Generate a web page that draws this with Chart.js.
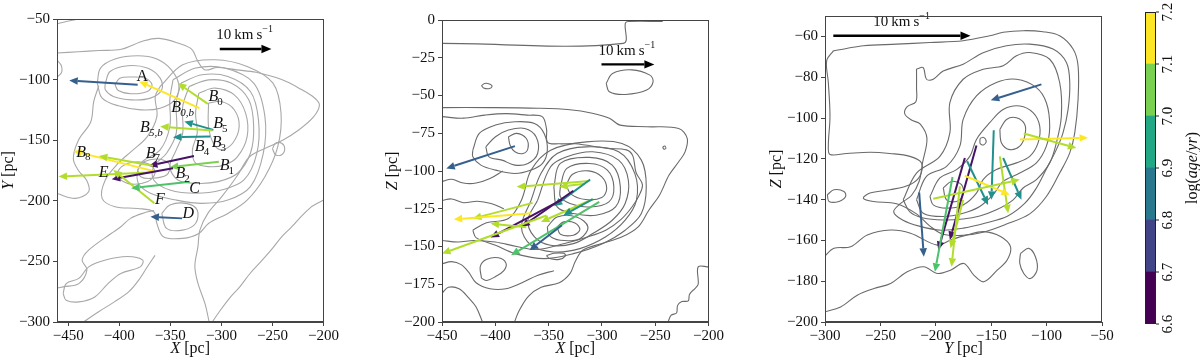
<!DOCTYPE html>
<html>
<head>
<meta charset="utf-8">
<script src="https://cdn.jsdelivr.net/npm/chart.js@4.4.0/dist/chart.umd.min.js"></script>
<style>
  html, body { margin: 0; padding: 0; background: #fff; width: 1200px; height: 362px; overflow: hidden; }
  .panel { position: absolute; top: 0; }
</style>
</head>
<body>
<div class="panel" style="left:0px"><canvas id="xy" width="340" height="362"></canvas></div>
<div class="panel" style="left:380px"><canvas id="xz" width="345" height="362"></canvas></div>
<div class="panel" style="left:760px"><canvas id="yz" width="370" height="362"></canvas></div>
<div class="panel" style="left:1130px"><canvas id="cbar" width="70" height="362"></canvas></div>
<script>
/* AXES */
const xTicksXY = [-450, -400, -350, -300, -250, -200];
const yTicksXY = [-300, -250, -200, -150, -100, -50];
const xTicksXZ = [-450, -400, -350, -300, -250, -200];
const yTicksXZ = [-200, -175, -150, -125, -100, -75, -50, -25, 0];
const xTicksYZ = [-300, -250, -200, -150, -100, -50];
const yTicksYZ = [-200, -180, -160, -140, -120, -100, -80, -60];
const cbTicks = [6.6, 6.7, 6.8, 6.9, 7.0, 7.1, 7.2];

/* X-Y PANEL : velocity arrows [x0, y0, x1, y1] and log(age) */
const xyArrows = [
  [-382, -104.3, -449, -100.7],
  [-321.5, -123.6, -380.5, -101.5],
  [-313.3, -120, -342.6, -102.9],
  [-307.9, -141.5, -336.3, -134.6],
  [-308.9, -142, -360, -138.7],
  [-311, -147, -347.4, -147.5],
  [-326.9, -163, -371, -171.2],
  [-302.5, -167.7, -350.5, -172.3],
  [-366, -175.5, -445, -159],
  [-367, -171, -420, -163],
  [-366, -176.5, -459.5, -180],
  [-347.4, -173.2, -407.4, -182.3],
  [-365.7, -202.1, -405.8, -174.5],
  [-331, -184.2, -388.4, -189.7],
  [-338.5, -214.5, -369.5, -213.1]
];
const xyAges = [6.78, 7.2, 7.13, 6.9, 7.13, 6.9, 6.63, 7.08, 7.2, 7.13, 7.13, 6.63, 7.13, 7.03, 6.78];

/* group labels: [x, y], name, subscript */
const xyLabelPos = [
  [-377.4, -97.4], [-312.6, -114.5], [-349, -123.6], [-307.9, -136.5], [-379.6, -140],
  [-309.5, -152], [-326, -155.3], [-374.2, -161], [-301.6, -171.2], [-442.1, -160.2],
  [-415.3, -176.8], [-344.9, -177.9], [-326.2, -189.7], [-360.3, -199.4], [-332.5, -210.4]
];
const xyLabelName = ['A', 'B', 'B', 'B', 'B', 'B', 'B', 'B', 'B', 'B', 'E', 'B', 'C', 'F', 'D'];
const xyLabelSub = ['', '0', '0,b', '5', '5,b', '3', '4', '7', '1', '8', '', '2', '', '', ''];

/* X-Y density contours (open lines and closed loops) */
const xyLines = [
  [[-461, -78], [-440, -77], [-420, -76], [-398, -75], [-376, -68], [-361, -66], [-342, -70], [-329, -75],
   [-323, -85], [-316, -92], [-304, -90], [-285, -92], [-266, -94], [-241, -100], [-222, -108], [-209, -115],
   [-204, -121], [-210, -131], [-225, -142], [-240, -150], [-258, -157], [-270, -162], [-275, -166],
   [-285, -180], [-300, -197], [-313, -210], [-321, -224], [-323, -238], [-326, -254], [-323, -268],
   [-316, -285], [-312, -300]],
  [[-461, -54], [-452, -52], [-443, -50.5]],
  [[-461, -84], [-457, -88], [-456.5, -94], [-461, -98]],
  [[-366, -208], [-376, -210], [-389, -214.5], [-398.5, -221.4], [-408, -227], [-430, -240.7], [-436.4, -249],
   [-431.7, -257], [-439.6, -268.3], [-455, -271], [-461, -272]],
  [[-461, -194], [-443, -198], [-430, -192.5], [-432, -183], [-440, -175], [-445, -165], [-440, -150],
   [-428, -135], [-425, -118], [-420, -105]],
  [[-435, -300], [-420.6, -291.7], [-404.8, -283.4], [-390.6, -275], [-381, -265.5], [-373, -255], [-365, -245]],
  [[-200, -199.4], [-209, -203.5], [-212, -205], [-222, -213], [-231, -221.4], [-241, -229.7], [-250, -239.3],
   [-260, -249], [-272, -260], [-282, -271], [-291, -279.3], [-301, -290.3], [-309, -300]]
];
const xyLoops = [
  [[-250, -157], [-247, -152.5], [-241, -152.5], [-238, -157], [-241, -162], [-247, -162]],
  [[-455, -276.5], [-452, -268.3], [-439.6, -264], [-430, -254.5], [-414.3, -249], [-392, -246], [-377, -249],
   [-379.6, -254.5], [-398.5, -260], [-411, -268.3], [-424, -279.3], [-439.6, -283.4], [-452, -282]],
  [[-404.2, -104.3], [-399.5, -98.9], [-388.4, -97.9], [-374.2, -98.9], [-367.9, -104.3], [-372.6, -109.8],
   [-388.4, -111.7], [-401, -109]],
  [[-413.7, -102.9], [-409, -93.3], [-391.6, -88.6], [-372.6, -90.5], [-360, -98.8], [-358.4, -108.4],
   [-369.5, -115.3], [-388.4, -116.7], [-405.8, -113.9], [-413.7, -108.4]],
  [[-421.6, -102.9], [-418.4, -90.5], [-404.2, -83], [-382, -80.3], [-363.2, -83], [-349, -91.9], [-341.7, -104.3],
   [-345.8, -116.7], [-360, -123.6], [-378.9, -125], [-401, -121.6], [-416.8, -115.3]],
  [[-312.6, -119.4], [-300, -118.1], [-287.4, -124.9], [-282.6, -138.7], [-289, -152.5], [-300, -158],
   [-307.9, -152.5], [-312.6, -138.7]],
  [[-322.1, -111.2], [-306.3, -107], [-287.4, -112.6], [-276.3, -127.7], [-274.8, -147], [-284.2, -163.5],
   [-296.9, -170.4], [-312.6, -171.8], [-325.3, -169], [-328.4, -158], [-323.7, -144.2], [-325.3, -127.7]],
  [[-331.6, -105.7], [-312.6, -100.2], [-290.5, -102.9], [-273.2, -116.7], [-268.4, -138.7], [-271.6, -160.8],
   [-284.2, -177.3], [-303.2, -184.2], [-325.3, -185.6], [-342.6, -182.8], [-350.5, -171.8], [-344.2, -158],
   [-337.9, -144.2], [-337.9, -122.2]],
  [[-339.5, -102.9], [-319, -96], [-293.7, -97.4], [-271.6, -109.8], [-263.7, -133.2], [-265.3, -160.8],
   [-277.9, -182.8], [-300, -191.1], [-325.3, -193.8], [-350.5, -191.1], [-366.3, -182.8], [-366.3, -171.8],
   [-353.7, -160.8], [-344.2, -144.2], [-344.2, -119.4]],
  [[-347.4, -100.2], [-325.3, -90.5], [-296.9, -90.5], [-268.4, -102.9], [-257.4, -130.5], [-259, -160.8],
   [-271.6, -188.3], [-293.7, -199.4], [-319, -202.1], [-344.2, -199.4], [-369.5, -193.8], [-382, -184.2],
   [-378.9, -169], [-360, -158], [-350.5, -138.7], [-350.5, -116.7]],
  [[-360, -105.7], [-337.9, -87.8], [-306.3, -83.6], [-274.8, -89.1], [-249.5, -102.9], [-241.6, -127.7],
   [-244.8, -155.3], [-257.4, -180.1], [-274.8, -199.4], [-293.7, -210.4], [-312.6, -218.7], [-322.1, -226.9],
   [-337.9, -231], [-356.9, -229.6], [-363.2, -218.7], [-366.3, -209], [-382, -206.3], [-404.2, -204.9],
   [-416.8, -198], [-413.7, -182.8], [-401, -169], [-388.4, -159.4], [-372.6, -147], [-363.2, -130.5],
   [-364.8, -114]],
  [[-382, -174.6], [-375.8, -167.7], [-360, -165.7], [-350.5, -170.4], [-353.7, -178.7], [-369.5, -181.5],
   [-379, -180.1]],
  [[-404, -180], [-398, -172], [-385, -168], [-370, -170], [-365, -177], [-372, -184], [-390, -186]],
  [[-358.4, -210.4], [-350.5, -203.5], [-334.7, -202.1], [-323.7, -207.6], [-325.3, -218.7], [-337.9, -224.2],
   [-353.7, -222.8]]
];

/* X-Z PANEL */
const xzArrows = [
  [-381.6, -83.5, -446, -98.3],
  [-311.6, -106.7, -380, -110.5],
  [-316, -108.5, -340, -110.5],
  [-311, -105.6, -345, -123.3],
  [-326.8, -113.1, -375.5, -137],
  [-337.5, -118.9, -404.4, -144.1],
  [-308.6, -118.7, -357.2, -133.7],
  [-308.6, -118.7, -336, -129.3],
  [-302.5, -120.4, -385.2, -155.8],
  [-337.5, -135.9, -367.9, -152.5],
  [-365, -121.1, -421, -131.5],
  [-366, -128, -439, -132],
  [-352, -129.5, -450, -154.7],
  [-370.9, -137.3, -404.4, -134.8]
];
const xzAges = [6.78, 7.13, 7.13, 6.9, 6.63, 6.63, 7.13, 6.9, 7.03, 6.78, 7.13, 7.2, 7.13, 7.13];

const xzLines = [
  [[-450, -15.5], [-280, -15.5], [-278, -2], [-275, -1], [-243, -1]],
  [[-450, -58], [-406, -58], [-360, -58.4], [-330, -59.4], [-309, -61.7], [-293, -65], [-283, -69.6],
   [-258, -70.7], [-228, -71.8], [-220, -78.4], [-222, -87.3], [-228, -93.9], [-237, -102.7], [-246, -116],
   [-256, -126], [-266, -137], [-281, -143.6], [-300, -148], [-318, -152.5], [-325, -160], [-330, -168],
   [-340, -174], [-357, -177], [-369, -183], [-378, -193], [-382, -200]],
  [[-450, -64], [-430, -65], [-410, -63], [-390, -62], [-370, -63], [-356, -64], [-352, -72], [-351, -81],
   [-340, -82], [-325, -82], [-295, -85], [-277, -86], [-271, -90], [-268, -101], [-262, -109], [-265, -116],
   [-272, -124], [-282, -132], [-296, -139], [-315, -144], [-335, -148], [-360, -152], [-380, -150],
   [-400, -147], [-420, -146], [-435, -147], [-450, -146]],
  [[-450, -107], [-441, -105.5], [-430, -108], [-418, -108], [-405, -105], [-393, -100]],
  [[-450, -119.5], [-441, -118.5], [-430, -121], [-417, -120], [-404, -121.5], [-392, -125]],
  [[-450, -161.5], [-441, -160], [-432, -162], [-425, -167], [-418, -174], [-405, -178], [-390, -178],
   [-375, -174], [-360, -169], [-345, -166]],
  [[-450, -181], [-444, -177], [-434, -178], [-425, -184], [-418, -190], [-412, -200]],
  [[-200, -163.5], [-209.7, -163.5], [-209.7, -175], [-213, -178], [-216, -180], [-218, -182], [-219, -186],
   [-225, -186.5], [-229, -189], [-230, -194], [-235, -195.5], [-238, -200]]
];
const xzLoops = [
  [[-413, -43.5], [-410, -42], [-405, -42.5], [-403, -44], [-406, -45.5], [-411, -45]],
  [[-296, -42], [-290, -35.4], [-272, -33], [-255, -36.5], [-252, -41], [-258, -46.4], [-278, -49.3], [-293, -47.5]],
  [[-243, -84], [-241, -83.5], [-240, -85], [-242, -85.5]],
  [[-413, -171], [-414, -163], [-408, -158.5], [-397, -157.5], [-390, -161], [-392, -166], [-400, -170], [-408, -172.5]],
  [[-352, -156], [-345, -154.5], [-336, -154.5], [-334, -156], [-340, -158.5], [-349, -158]],
  [[-387.7, -77.3], [-380, -75.1], [-370.9, -78.5], [-369.4, -85.1], [-374, -88.4], [-381.6, -87.3], [-386.1, -82.9]],
  [[-408.9, -84], [-399.8, -77.3], [-387.7, -72.9], [-372.4, -71.8], [-361.8, -77.3], [-360.3, -88.4],
   [-369.4, -95], [-381.6, -96.1], [-393.7, -92.8], [-405.9, -90.6]],
  [[-421.1, -86.2], [-415, -75.1], [-399.8, -69.6], [-381.6, -67.4], [-363.3, -68.5], [-354.2, -75.1],
   [-351.2, -86.2], [-355.7, -95], [-366.4, -99.4], [-381.6, -101.7], [-399.8, -99.4], [-413.5, -96.1], [-421.1, -90.6]],
  [[-333.5, -109.4], [-327.5, -102.1], [-312.3, -99.9], [-300.1, -103.9], [-295.5, -111.6], [-300.1, -117.6],
   [-315.3, -118.9], [-329, -115.3]],
  [[-339, -110.5], [-332.9, -98.3], [-311.6, -95], [-294.9, -99.4], [-288.8, -110.5], [-293.4, -120.4],
   [-311.6, -123.8], [-329.9, -121.5], [-339, -117.1]],
  [[-345.1, -110.5], [-339, -95], [-311.6, -91], [-290.3, -96.1], [-282.7, -110.5], [-287.2, -123.8],
   [-305.5, -129.3], [-326.8, -128.2], [-342, -123.8]],
  [[-342, -137], [-335.9, -133.7], [-325.3, -134.4], [-320.7, -138.8], [-326.8, -142.5], [-339, -141.9]],
  [[-351.2, -137], [-342, -130.4], [-323.8, -130.4], [-313.1, -137], [-320.7, -144.8], [-339, -145.9], [-349.6, -142.5]],
  [[-360.3, -119.3], [-348.1, -97.2], [-332.9, -90.6], [-308.6, -87.3], [-284.3, -92.8], [-275.2, -106.1],
   [-278.2, -121.5], [-290.3, -132.6], [-308.6, -141.4], [-326.8, -148.1], [-348.1, -149.2], [-363.3, -143.6],
   [-369.4, -132.6]],
  [[-366.4, -119.3], [-357.2, -101.7], [-342, -88.4], [-314.6, -84], [-284.3, -87.3], [-269.1, -101.7],
   [-267.6, -119.3], [-278.2, -132.6], [-296.4, -143.6], [-320.7, -151.4], [-345.1, -153.6], [-366.4, -149.2],
   [-375.5, -137]],
  [[-421.1, -139.2], [-408.9, -134.4], [-387.7, -131.5], [-375.5, -119.3], [-366.4, -99.4], [-348.1, -86.2],
   [-314.6, -80.7], [-281.2, -81.8], [-263, -92.8], [-258.4, -110.5], [-263, -128.2], [-278.2, -139.2],
   [-299.5, -148.1], [-326.8, -154.7], [-354.2, -158], [-381.6, -154.7], [-399.8, -149.2], [-418.1, -144.1]]
];

/* Y-Z PANEL */
const yzArrows = [
  [-104.7, -83.5, -150.4, -91.3],
  [-124.2, -110.5, -62.6, -109.7],
  [-120.6, -107.6, -73.1, -114.7],
  [-147.7, -106, -149.8, -140.1],
  [-163.3, -113.5, -187.3, -159.8],
  [-173.8, -119.6, -197.8, -164.7],
  [-171.7, -121.2, -152.8, -142.6],
  [-142.2, -118.8, -134.7, -146.7],
  [-139.2, -119.6, -122.7, -140.1],
  [-173.8, -128.3, -133.2, -137.6],
  [-202.3, -139.6, -124.2, -130.2],
  [-184.9, -128.9, -200.8, -175.4],
  [-178.3, -133.5, -185.8, -172.9],
  [-175.3, -140.1, -186.7, -163.9],
  [-215, -136.5, -210.8, -168]
];
const yzAges = [6.78, 7.2, 7.13, 6.9, 6.63, 6.63, 6.9, 7.13, 6.9, 7.2, 7.13, 7.03, 7.13, 7.13, 6.78];

const yzLines = [
  [[-300.9, -168], [-291.9, -163.9], [-276.9, -163.1], [-261.8, -157.3], [-240.8, -154.9], [-222.8, -156.5],
   [-198.7, -162.3], [-186.7, -159.8], [-171.7, -157.3], [-156.7, -155.7], [-141.6, -158.1], [-132.6, -163.1],
   [-135.6, -169.6], [-144.6, -174.6], [-156.7, -180.3], [-165.7, -177], [-174.7, -171.3], [-186.7, -174.6],
   [-198.7, -176.2], [-210.8, -172.9], [-225.8, -175.4], [-240.8, -181.1], [-255.8, -183.6], [-270.9, -186.9],
   [-285.9, -192.6], [-300.9, -195.1]]
];
const yzLoops = [
  [[-292.5, -67.1], [-280.5, -65.9], [-265.4, -64.6], [-235.4, -63.8], [-205.3, -63], [-175.3, -62.1],
   [-151.3, -59.7], [-139.2, -58], [-121.2, -57.2], [-103.2, -57.7], [-88.2, -59.7], [-76.1, -66.2],
   [-71.6, -74.4], [-71.6, -90.9], [-74.6, -107.3], [-79.1, -117.1], [-88.2, -127], [-100.2, -138.5],
   [-115.2, -147], [-136.2, -152], [-157.3, -156], [-175.3, -157.5], [-193.3, -157], [-205.3, -153],
   [-217.4, -147], [-235.4, -142], [-256.4, -140.9], [-265.4, -139.3], [-259.4, -136.8], [-241.4, -135.2],
   [-223.4, -132.7], [-214.4, -128.6], [-212.9, -122], [-223.4, -118.8], [-241.4, -117.4], [-259.4, -116.8],
   [-280.5, -117.4], [-295.5, -117.9], [-297, -113.8], [-295.5, -99.1], [-297, -82.6], [-298.5, -72]],
  [[-217.4, -76], [-211.4, -75.3], [-208.4, -81], [-202.3, -81], [-193.3, -77], [-175.3, -73.6], [-157.3, -68],
   [-136.2, -64.6], [-115.2, -63.8], [-94.2, -66.2], [-82.1, -72.8], [-79.1, -82.6], [-80.6, -95.8],
   [-85.2, -107.3], [-91.2, -115.5], [-100.2, -125], [-110, -135], [-120, -142], [-135, -148], [-155, -151.5],
   [-175, -154], [-195, -155], [-215, -153], [-230, -150], [-238, -146], [-232, -142], [-222, -138],
   [-215, -131], [-212, -122], [-208, -110], [-214, -103], [-222, -101], [-228, -98], [-226, -94.5],
   [-218, -92], [-217.4, -85]],
  [[-229.4, -140.1], [-217.4, -127], [-196.3, -118.8], [-187.3, -107.3], [-187.3, -92.5], [-175.3, -81],
   [-157.3, -76.1], [-139.2, -74.4], [-127.2, -69.5], [-115.2, -67.9], [-97.2, -71.2], [-88.2, -82.6],
   [-86.7, -99.1], [-91.2, -112.2], [-97.2, -122], [-109.2, -130.2], [-121.2, -134.3], [-130.2, -140.1],
   [-145.3, -145], [-160.3, -148], [-175.3, -149.5], [-193.3, -150], [-211.4, -149], [-223.4, -146]],
  [[-217.4, -140.1], [-208.4, -128.6], [-190.3, -123.7], [-178.3, -113.8], [-175.3, -100.7], [-163.3, -89.2],
   [-145.3, -82.6], [-127.2, -81], [-109.2, -85.1], [-100.2, -92.5], [-97.2, -104], [-100.2, -113.8],
   [-109.2, -122], [-124.2, -127], [-139.2, -131.1], [-148.3, -137.6], [-160.3, -143.4], [-175.3, -146.7],
   [-193.3, -148.3], [-211.4, -146.7]],
  [[-205.3, -138.5], [-196.3, -129.4], [-181.3, -125.3], [-169.3, -118.8], [-163.3, -110.5], [-151.3, -102.3],
   [-139.2, -95.8], [-124.2, -94.1], [-112.2, -97.4], [-106.2, -104], [-107.7, -112.2], [-115.2, -118.8],
   [-127.2, -122], [-145.3, -125.3], [-157.3, -130.2], [-163.3, -136.8], [-175.3, -142.6], [-190.3, -144.2],
   [-202.3, -142.6]],
  [[-142.2, -105.6], [-136.2, -100.7], [-127.2, -99.9], [-119.7, -103.2], [-119.7, -108.9], [-124.2, -113.8],
   [-133.2, -115.5], [-140.7, -112.2]],
  [[-160, -110], [-157, -109.5], [-154.5, -111.5], [-157, -113.2], [-160, -112.5]],
  [[-193.3, -134.3], [-185.8, -131.1], [-176.8, -132.7], [-175.3, -137.6], [-181.3, -140.9], [-190.3, -140.1]],
  [[-123.6, -166.4], [-116.1, -163.9], [-110.1, -168], [-108.6, -174.6], [-114.6, -178.7], [-120.6, -176.2], [-124.2, -171.3]],
  [[-297.9, -137.6], [-291.9, -135.2], [-282.9, -136], [-281.4, -138.5], [-287.4, -140.9], [-296.4, -140.9]]
];

/* REFERENCE ARROWS (10 km/s) : [x0, y0, x1, y1], text anchor [x, y] */
const xyRef = [-301.6, -74.8, -251, -74.8];
const xyRefText = [-277.3, -63];
const xzRef = [-300.4, -29.4, -250.8, -29.4];
const xzRefText = [-276.6, -20.3];
const yzRef = [-292.5, -59.7, -168.7, -59.7];
const yzRefText = [-230.9, -52.8];

/* COLORMAP */
const cbMin = 6.6;
const cbMax = 7.2;
const viridisStops = ['#440154', '#482475', '#414487', '#355f8d', '#2a788e', '#21918c',
  '#22a884', '#44bf70', '#7ad151', '#bddf26', '#fde725'];

function hexRgb(h) {
  return [1, 3, 5].map((i) => parseInt(h.slice(i, i + 2), 16));
}
function viridis(t) {
  t = Math.min(1, Math.max(0, t));
  const f = t * (viridisStops.length - 1);
  const i = Math.min(viridisStops.length - 2, Math.floor(f));
  const a = hexRgb(viridisStops[i]);
  const b = hexRgb(viridisStops[i + 1]);
  const u = f - i;
  const c = a.map((v, k) => Math.round(v + (b[k] - v) * u));
  return `rgb(${c[0]},${c[1]},${c[2]})`;
}
const ageColor = (a) => viridis((a - cbMin) / (cbMax - cbMin));

/* HELPERS */
const serif = '"Liberation Serif", "DejaVu Serif", serif';
const ink = '#111';
const minus = (v) => (v < 0 ? '\u2212' + Math.abs(v) : String(v));

function contourSets(lines, loops, color) {
  const sets = [];
  lines.forEach((pts) => sets.push(pts));
  loops.forEach((pts) => sets.push(pts.concat([pts[0]])));
  return sets.map((pts) => ({
    data: pts.map(([x, y]) => ({ x, y })),
    showLine: true,
    pointRadius: 0,
    borderColor: color,
    borderWidth: 1.1,
    tension: 0.35,
    fill: false,
  }));
}

function arrow(ctx, x0, y0, x1, y1, color, w, hl, hw) {
  const ang = Math.atan2(y1 - y0, x1 - x0);
  const bx = x1 - hl * Math.cos(ang);
  const by = y1 - hl * Math.sin(ang);
  ctx.strokeStyle = color;
  ctx.fillStyle = color;
  ctx.lineWidth = w;
  ctx.beginPath();
  ctx.moveTo(x0, y0);
  ctx.lineTo(bx, by);
  ctx.stroke();
  ctx.beginPath();
  ctx.moveTo(x1, y1);
  ctx.lineTo(bx + hw * Math.sin(ang), by - hw * Math.cos(ang));
  ctx.lineTo(bx - hw * Math.sin(ang), by + hw * Math.cos(ang));
  ctx.closePath();
  ctx.fill();
}

// draw mixed italic / upright text centred on (cx, cy), optionally rotated
function mixedText(ctx, parts, cx, cy, rot) {
  ctx.save();
  ctx.translate(cx, cy);
  if (rot) ctx.rotate(rot);
  let total = 0;
  parts.forEach((p) => {
    ctx.font = `${p.italic ? 'italic ' : ''}${p.size}px ${serif}`;
    total += ctx.measureText(p.t).width;
  });
  let x = -total / 2;
  ctx.textBaseline = 'middle';
  ctx.textAlign = 'left';
  ctx.fillStyle = ink;
  parts.forEach((p) => {
    ctx.font = `${p.italic ? 'italic ' : ''}${p.size}px ${serif}`;
    ctx.fillText(p.t, x, p.dy || 0);
    x += ctx.measureText(p.t).width;
  });
  ctx.restore();
}

function overlay(spec) {
  return {
    id: 'overlay',
    afterDatasetsDraw(chart) {
      const { ctx, chartArea: a } = chart;
      const sx = chart.scales.x;
      const sy = chart.scales.y;
      ctx.save();
      ctx.beginPath();
      ctx.rect(a.left, a.top, a.right - a.left, a.bottom - a.top);
      ctx.clip();
      spec.arrows.forEach(([x0, y0, x1, y1], i) => {
        arrow(ctx, sx.getPixelForValue(x0), sy.getPixelForValue(y0),
          sx.getPixelForValue(x1), sy.getPixelForValue(y1), ageColor(spec.ages[i]), 2, 8.5, 3.8);
      });
      const r = spec.ref;
      arrow(ctx, sx.getPixelForValue(r[0]), sy.getPixelForValue(r[1]),
        sx.getPixelForValue(r[2]), sy.getPixelForValue(r[3]), '#000', 2.4, 10, 4.2);
      ctx.restore();

      mixedText(ctx, [{ t: '10\u2009km\u2009s', size: 15 }, { t: '\u22121', size: 10, dy: -5 }],
        sx.getPixelForValue(spec.refText[0]), sy.getPixelForValue(spec.refText[1]));

      if (spec.labels) {
        spec.labels.pos.forEach(([x, y], i) => {
          const px = sx.getPixelForValue(x);
          const py = sy.getPixelForValue(y);
          const name = spec.labels.name[i];
          const sub = spec.labels.sub[i];
          ctx.fillStyle = ink;
          ctx.textBaseline = 'middle';
          if (!sub) {
            ctx.font = `${name === 'A' ? '' : 'italic '}16px ${serif}`;
            ctx.textAlign = 'center';
            ctx.fillText(name, px, py);
          } else {
            ctx.font = `italic 16px ${serif}`;
            ctx.textAlign = 'left';
            ctx.fillText(name, px, py);
            const w = ctx.measureText(name).width;
            ctx.font = `${/b/.test(sub) ? 'italic ' : ''}11px ${serif}`;
            ctx.fillText(sub, px + w - 1, py + 5);
          }
        });
      }

      // frame
      ctx.strokeStyle = '#444';
      ctx.lineWidth = 1;
      ctx.strokeRect(Math.round(a.left) + 0.5, Math.round(a.top) + 0.5,
        Math.round(a.right - a.left) - 1, Math.round(a.bottom - a.top) - 1);

      // axis titles
      mixedText(ctx, [{ t: spec.xTitle, italic: true, size: 16 }, { t: ' [pc]', size: 16 }],
        (a.left + a.right) / 2, 349);
      mixedText(ctx, [{ t: spec.yTitle, italic: true, size: 16 }, { t: ' [pc]', size: 16 }],
        spec.yTitleX, (a.top + a.bottom) / 2, -Math.PI / 2);
    },
  };
}

function panel(id, spec) {
  const el = document.getElementById(id);
  const W = el.width;
  const H = el.height;
  const area = spec.area;
  const tickFont = { family: serif, size: 15 };
  new Chart(el, {
    type: 'scatter',
    data: { datasets: contourSets(spec.lines, spec.loops, spec.contourColor) },
    options: {
      responsive: false,
      animation: false,
      events: [],
      layout: { padding: { left: 0, top: area.top, right: W - area.right, bottom: 0 } },
      plugins: { legend: { display: false }, tooltip: { enabled: false } },
      scales: {
        x: {
          type: 'linear',
          min: spec.xRange[0],
          max: spec.xRange[1],
          afterBuildTicks: (s) => { s.ticks = spec.xTicks.map((v) => ({ value: v })); },
          afterFit: (s) => { s.height = H - area.bottom; },
          ticks: { font: tickFont, color: ink, padding: 1, maxRotation: 0, autoSkip: false, callback: minus },
          grid: { drawOnChartArea: false, drawTicks: true, tickLength: 4, color: '#444' },
          border: { color: '#444' },
        },
        y: {
          type: 'linear',
          min: spec.yRange[0],
          max: spec.yRange[1],
          afterBuildTicks: (s) => { s.ticks = spec.yTicks.map((v) => ({ value: v })); },
          afterFit: (s) => { s.width = area.left; },
          ticks: { font: tickFont, color: ink, padding: 3, autoSkip: false, callback: minus },
          grid: { drawOnChartArea: false, drawTicks: true, tickLength: 4, color: '#444' },
          border: { color: '#444' },
        },
      },
    },
    plugins: [overlay(spec)],
  });
}

panel('xy', {
  area: { left: 57, right: 332, top: 19, bottom: 322 },
  xRange: [-461, -200], yRange: [-300, -50],
  xTicks: xTicksXY, yTicks: yTicksXY,
  lines: xyLines, loops: xyLoops, contourColor: '#a8a8a8',
  arrows: xyArrows, ages: xyAges,
  ref: xyRef, refText: xyRefText,
  labels: { pos: xyLabelPos, name: xyLabelName, sub: xyLabelSub },
  xTitle: 'X', yTitle: 'Y', yTitleX: 9,
});

panel('xz', {
  area: { left: 62, right: 336, top: 20, bottom: 322 },
  xRange: [-450, -200], yRange: [-200, 0],
  xTicks: xTicksXZ, yTicks: yTicksXZ,
  lines: xzLines, loops: xzLoops, contourColor: '#6a6a6a',
  arrows: xzArrows, ages: xzAges,
  ref: xzRef, refText: xzRefText,
  xTitle: 'X', yTitle: 'Z', yTitleX: 13,
});

panel('yz', {
  area: { left: 65, right: 342, top: 16, bottom: 322 },
  xRange: [-300, -50], yRange: [-200, -50],
  xTicks: xTicksYZ, yTicks: yTicksYZ,
  lines: yzLines, loops: yzLoops, contourColor: '#6a6a6a',
  arrows: yzArrows, ages: yzAges,
  ref: yzRef, refText: yzRefText,
  xTitle: 'Y', yTitle: 'Z', yTitleX: 17,
});

/* COLORBAR */
const cbBands = cbTicks.slice(0, -1).map((v, i) => [v, cbTicks[i + 1]]);
new Chart(document.getElementById('cbar'), {
  type: 'bar',
  data: {
    labels: [''],
    datasets: cbBands.map((b, i) => ({
      data: [b],
      backgroundColor: viridis(i / (cbBands.length - 1)),
      barPercentage: 1,
      categoryPercentage: 1,
      grouped: false,
      borderWidth: 0,
    })),
  },
  options: {
    responsive: false,
    animation: false,
    events: [],
    layout: { padding: { left: 15, right: 44, top: 12, bottom: 38 } },
    plugins: { legend: { display: false }, tooltip: { enabled: false } },
    scales: {
      x: { display: false },
      y: { display: false, min: cbMin, max: cbMax },
    },
  },
  plugins: [{
    id: 'cbarAxis',
    afterDraw(chart) {
      const { ctx, chartArea: a } = chart;
      const sy = chart.scales.y;
      ctx.strokeStyle = '#222';
      ctx.lineWidth = 1;
      ctx.strokeRect(a.left + 0.5, a.top + 0.5, a.right - a.left - 1, a.bottom - a.top - 1);
      cbTicks.forEach((v) => {
        const y = sy.getPixelForValue(v);
        ctx.beginPath();
        ctx.moveTo(a.right, y);
        ctx.lineTo(a.right + 3, y);
        ctx.stroke();
        ctx.save();
        ctx.translate(a.right + 12, y);
        ctx.rotate(-Math.PI / 2);
        ctx.font = `15px ${serif}`;
        ctx.fillStyle = ink;
        ctx.textAlign = 'center';
        ctx.textBaseline = 'middle';
        ctx.fillText(v.toFixed(1), 0, 0);
        ctx.restore();
      });
      mixedText(ctx, [{ t: 'log(', size: 16 }, { t: 'age', italic: true, size: 16 }, { t: '/', size: 16 },
        { t: 'yr', italic: true, size: 16 }, { t: ')', size: 16 }], 63, (a.top + a.bottom) / 2, -Math.PI / 2);
    },
  }],
});
</script>
</body>
</html>
